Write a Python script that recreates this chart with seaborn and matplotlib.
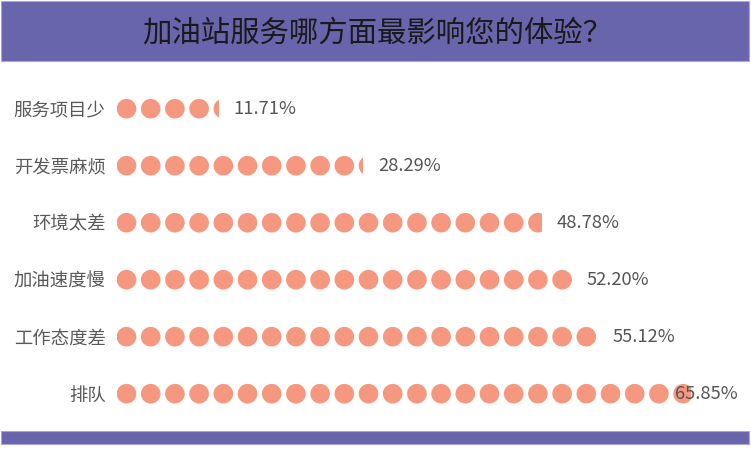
import matplotlib
matplotlib.use("Agg")
import matplotlib.pyplot as plt
from matplotlib.patches import Ellipse, Rectangle
import seaborn as sns
import pandas as pd
import numpy as np

title = "加油站服务哪方面最影响您的体验？"
categories = ["服务项目少", "开发票麻烦", "环境太差", "加油速度慢", "工作态度差", "排队"]
values = [11.71, 28.29, 48.78, 52.20, 55.12, 65.85]
value_labels = ["11.71%", "28.29%", "48.78%", "52.20%", "55.12%", "65.85%"]

sns.set_theme(style="white")
plt.rcParams['font.family'] = ['Noto Sans CJK SC', 'DejaVu Sans']

W, H = 751, 459
fig = plt.figure(figsize=(W / 100, H / 100), dpi=100)
fig.patch.set_facecolor("white")

purple = "#6965AD"
salmon = "#F5987F"

# title bar and bottom bar (figure pixel coordinates)
def px_rect(x0, y0, x1, y1, **kw):
    return Rectangle((x0 / W, 1 - y1 / H), (x1 - x0) / W, (y1 - y0) / H,
                     transform=fig.transFigure, **kw)

fig.patches.append(px_rect(1, 1, 749, 61, facecolor=purple, edgecolor="#A9A6D4", lw=0.8))
fig.patches.append(px_rect(1, 431, 749, 444, facecolor=purple, edgecolor="#A9A6D4", lw=0.8))
fig.text(377 / W, 1 - 33 / H, title, ha="center", va="center",
         fontsize=21.2, fontweight="light", color="#1A1A1A")

# main axes
left_px, xmax = 116.7, 70
pxu = 8.72  # pixels per percent
row_top, row_gap = 108.7, 57.0
ax_left = left_px / W
ax_w = pxu * xmax / W
ax_top = row_top - 0.5 * row_gap
ax_bot = row_top + 5.5 * row_gap
ax = fig.add_axes([ax_left, 1 - ax_bot / H, ax_w, (ax_bot - ax_top) / H])

df = pd.DataFrame({"category": categories, "value": values})
sns.barplot(data=df, x="value", y="category", orient="h", ax=ax,
            width=0.5, facecolor="none", edgecolor="none")
ax.set_xlim(0, xmax)
ax.set_ylim(len(categories) - 0.5, -0.5)

pitch = 24.2 / pxu
diam_x = 19.6 / pxu
diam_y = 19.6 / row_gap
n_sym = int(xmax / pitch) + 1

for i, (bar, v) in enumerate(zip(ax.patches, values)):
    for k in range(n_sym):
        cx = k * pitch + diam_x / 2
        e = Ellipse((cx, i), diam_x, diam_y, facecolor=salmon, edgecolor="none", zorder=3)
        ax.add_patch(e)
        e.set_clip_path(bar)
    lx = min(v + 15.0 / pxu, 64.0)
    ax.text(lx, i, value_labels[i], ha="left", va="center", fontsize=13.2,
            color="#555555", zorder=4)

ax.set_xlabel("")
ax.set_ylabel("")
ax.set_xticks([])
ax.tick_params(axis="y", length=0, pad=8, labelsize=13.2, labelcolor="#595959")
for s in ax.spines.values():
    s.set_visible(False)
ax.patch.set_alpha(0)

fig.savefig("out.png", dpi=100, facecolor="white")
